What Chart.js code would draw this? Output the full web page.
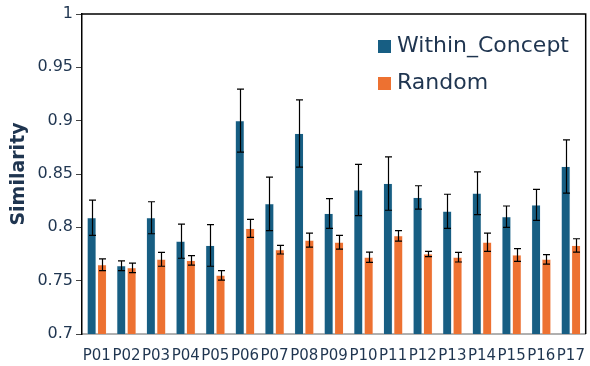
<!DOCTYPE html>
<html>
<head>
<meta charset="utf-8">
<script src="https://cdn.jsdelivr.net/npm/chart.js@4"></script>
<style>
  html, body { margin: 0; padding: 0; background: #fff; }
  #wrap { width: 590px; height: 366px; }
</style>
</head>
<body>
<div id="wrap"><canvas id="chart" width="590" height="366"></canvas></div>
<script>
const participants = ['P01', 'P02', 'P03', 'P04', 'P05', 'P06', 'P07', 'P08', 'P09', 'P10', 'P11', 'P12', 'P13', 'P14', 'P15', 'P16', 'P17'];
const withinConcept = [0.809, 0.764, 0.809, 0.787, 0.783, 0.900, 0.822, 0.888, 0.813, 0.835, 0.841, 0.828, 0.815, 0.832, 0.810, 0.821, 0.857];
const withinConceptErr = [0.0165, 0.0045, 0.015, 0.016, 0.0195, 0.0295, 0.025, 0.0315, 0.014, 0.024, 0.025, 0.011, 0.016, 0.020, 0.010, 0.0145, 0.025];
const random = [0.765, 0.762, 0.770, 0.769, 0.755, 0.799, 0.779, 0.788, 0.786, 0.772, 0.792, 0.775, 0.772, 0.786, 0.774, 0.770, 0.783];
const randomErr = [0.0055, 0.0045, 0.0065, 0.0045, 0.0045, 0.0085, 0.004, 0.0065, 0.0065, 0.0048, 0.005, 0.0025, 0.0045, 0.0085, 0.006, 0.0045, 0.0063];
const yTicks = [0.7, 0.75, 0.8, 0.85, 0.9, 0.95, 1];

const chartElement = document.getElementById('chart');
const textColor = '#1f3550';

const errorBarPlugin = {
    id: 'errorBars',
    afterDatasetsDraw(chart) {
        const ctx = chart.ctx;
        const yScale = chart.scales.y;
        ctx.save();
        ctx.strokeStyle = '#000';
        ctx.lineWidth = 1.2;
        chart.data.datasets.forEach((dataset, datasetIndex) => {
            const meta = chart.getDatasetMeta(datasetIndex);
            meta.data.forEach((bar, i) => {
                const value = dataset.data[i];
                const err = dataset.errors[i];
                const yTop = yScale.getPixelForValue(value + err);
                const yBottom = yScale.getPixelForValue(value - err);
                const x = Math.round(bar.x) + 0.5;
                ctx.beginPath();
                ctx.moveTo(x, yTop);
                ctx.lineTo(x, yBottom);
                ctx.moveTo(x - 3.5, yTop);
                ctx.lineTo(x + 3.5, yTop);
                ctx.moveTo(x - 3.5, yBottom);
                ctx.lineTo(x + 3.5, yBottom);
                ctx.stroke();
            });
        });
        ctx.restore();
    }
};

const framePlugin = {
    id: 'frame',
    afterDraw(chart) {
        const ctx = chart.ctx;
        const area = chart.chartArea;
        ctx.save();
        ctx.strokeStyle = '#000';
        ctx.lineWidth = 1.5;
        ctx.beginPath();
        ctx.moveTo(area.left, area.top);
        ctx.lineTo(area.right, area.top);
        ctx.lineTo(area.right, area.bottom);
        ctx.stroke();
        // legend
        ctx.font = '22px "DejaVu Sans"';
        ctx.textBaseline = 'middle';
        chart.data.datasets.forEach((dataset, i) => {
            const y = 46 + i * 37;
            ctx.fillStyle = dataset.backgroundColor;
            ctx.fillRect(378, y - 6, 13, 13);
            ctx.fillStyle = textColor;
            ctx.fillText(dataset.label, 397, y);
        });
        ctx.restore();
    }
};

const chart = new Chart(chartElement, {
    type: 'bar',
    data: {
        labels: participants,
        datasets: [{
            label: 'Within_Concept',
            data: withinConcept,
            errors: withinConceptErr,
            backgroundColor: '#175e83',
            borderColor: 'rgba(190, 215, 230, 0.6)',
            borderWidth: 0.5
        }, {
            label: 'Random',
            data: random,
            errors: randomErr,
            backgroundColor: '#ed7131',
            borderColor: 'rgba(250, 210, 190, 0.6)',
            borderWidth: 0.5
        }]
    },
    options: {
        responsive: false,
        animation: false,
        layout: { padding: { top: 14, right: 2, left: 0, bottom: 0 } },
        datasets: { bar: { categoryPercentage: 0.7, barPercentage: 0.86 } },
        plugins: {
            legend: { display: false },
            tooltip: { enabled: false }
        },
        scales: {
            x: {
                grid: { display: false },
                border: { color: '#b0b0b0', width: 2 },
                ticks: {
                    color: textColor,
                    font: { family: 'DejaVu Sans', size: 15 },
                    maxRotation: 0,
                    autoSkip: false,
                    padding: 5
                },
                afterFit(scale) { scale.height = 32; }
            },
            y: {
                min: 0.7,
                max: 1,
                afterBuildTicks(scale) { scale.ticks = yTicks.map(v => ({ value: v })); },
                grid: {
                    drawOnChartArea: false,
                    drawTicks: true,
                    tickLength: 6,
                    color: '#444'
                },
                border: { color: '#000', width: 1.5 },
                ticks: {
                    color: textColor,
                    font: { family: 'DejaVu Sans', size: 16 },
                    padding: 3,
                    callback: v => String(+v.toFixed(2))
                },
                title: {
                    display: true,
                    text: 'Similarity',
                    color: textColor,
                    font: { family: 'DejaVu Sans', size: 19, weight: 'bold' },
                    padding: { top: 8, bottom: 0 }
                },
                afterFit(scale) { scale.width = 82; }
            }
        }
    },
    plugins: [errorBarPlugin, framePlugin]
});
</script>
</body>
</html>
